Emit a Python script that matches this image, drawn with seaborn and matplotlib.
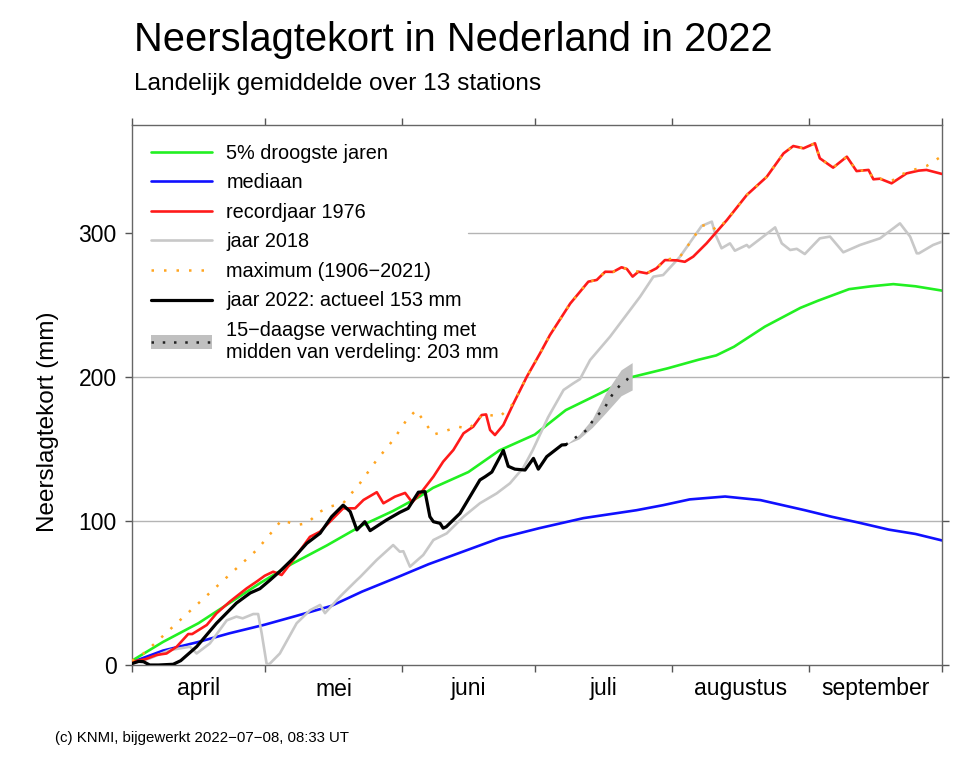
import matplotlib
matplotlib.use("Agg")
import matplotlib.pyplot as plt
from matplotlib.lines import Line2D
from matplotlib.patches import Patch
import seaborn as sns
import pandas as pd

# ---------------- data (day 0 = 1 April) ----------------
green_days = [0, 7, 15, 22, 29, 36, 44, 52, 59, 65, 68, 76, 83, 91, 98, 106, 113, 121, 128, 132, 136, 143, 151, 155, 162, 167, 172, 177, 183]
green_vals = [3, 16, 29, 43, 57, 70, 83, 97, 107, 117, 123, 134, 149, 160, 177, 189, 200, 206, 212, 215, 221, 235, 248, 253, 261, 263, 264.5, 263, 260]

blue_days = [0, 7, 15, 22, 30, 37, 45, 52, 60, 67, 75, 83, 92, 102, 114, 120, 126, 134, 142, 152, 158, 164, 171, 177, 183]
blue_vals = [2, 10, 16, 22, 28, 34, 41, 51, 61, 70, 79, 88, 95, 102, 107.5, 111, 115, 117, 114.5, 107.5, 103, 99, 94, 91, 86.5]

red_days = [0, 3, 5.6, 7.8, 10.1, 12.7, 13.6, 16.9, 19.1, 22.1, 25.9, 28.2, 30, 31.9, 33.8, 36.4, 40.2, 42.5, 44.7,
            47.7, 50.4, 52.3, 55.3, 56.8, 59.4, 61.7, 63.3, 65.5, 68.1, 70.3, 72.6, 74.9, 77.1, 79, 80, 80.9, 82, 83.9,
            86.2, 89.2, 92.2, 94.4, 99, 103.1, 105, 106.9, 108.7, 110.6, 111.8, 113.1, 114.4, 116.3, 118.5, 120.4,
            123.1, 124.9, 126.8, 129.8, 134.4, 138.9, 143.4, 147.2, 149.4, 151.7, 154.3, 155.4, 157, 158.4, 161.5,
            163.7, 166.4, 167.5, 169, 171.6, 175, 177.7, 179.5, 183]
red_vals = [2.3, 4, 7, 8, 12.7, 21.5, 21.5, 27.8, 35.9, 44, 53.2, 58, 62, 64.8, 62.5, 72.9, 89, 92.6, 99.5,
            108.8, 108.8, 114.6, 120, 112.3, 116.9, 119.5, 113, 120.5, 130.8, 141.2, 149.3, 160.9, 165.5, 173.6, 174, 163.2, 159.7, 166.7,
            181.7, 200.2, 216.5, 229, 251, 266.2, 267.4, 273.1, 273, 276.2, 275, 269.7, 273.1, 272, 275.5, 281.2,
            281, 280, 283.6, 292.8, 309, 326.4, 339, 355.3, 360.4, 358.8, 362.3, 351.9, 348.4, 345.4, 353,
            343, 343.8, 337.3, 337.7, 334.5, 341.4, 343.3, 343.8, 341]

grey_days = [0, 4, 8.6, 13.1, 14.6, 17.6, 21.4, 23.6, 25, 27.4, 28.5, 29.3, 30.4, 31, 33.4, 37.2, 40.2, 42.5, 43.6,
             47, 50.8, 51.5, 55.3, 59, 60.5, 61.3, 62.8, 65.8, 68.1, 71.1, 74.9, 78.6, 82.4, 85.4, 88.4, 90.5, 94,
             97.5, 99.7, 101.2, 103.5, 108, 114.8, 117.8, 120, 123.8, 128.7, 131, 131.7, 133.2, 135.1, 136.2, 138.9,
             139.4, 142.6, 145.3, 146.8, 148.7, 150.2, 152, 155.4, 157.7, 160.7, 164.5, 169, 173.5, 175.8, 177.3,
             177.8, 181, 183]
grey_vals = [1, 4.6, 10.4, 12.7, 8, 15, 31, 33.6, 32.4, 35.4, 35.4, 22, 1, 0.5, 8, 29, 38, 41.7, 36,
             47.5, 59, 61, 73, 83.3, 78.7, 79, 68.3, 76.4, 86.8, 91.4, 103, 112.3, 119.2, 126.2, 137, 149, 172,
             191, 195.6, 198.5, 211.8, 228, 255.8, 269.7, 270.8, 283.5, 304.9, 307.9, 299.8, 289.4, 292.8, 287.7, 291.7,
             290, 297.5, 303.9, 292.8, 288.2, 289, 285.4, 296.3, 297.5, 286.6, 291.7, 296.3, 306.7, 297.5, 285.9,
             285.9, 291.7, 294]

max_days = [0, 2.6, 5.6, 10.1, 14.6, 19.1, 23.6, 28.2, 32.3, 33.8, 37.2, 39.5, 42.5, 44.7, 47.7, 51.5, 55.3, 59, 62,
            64.2, 65.8, 68.1, 70.3, 73.7, 76, 77.9, 79, 80, 83.1, 86.2, 89.2, 92.2, 94.4, 99, 103.1, 105, 106.9, 108.7,
            110.6, 111.8, 114.4, 116.3, 118.5, 120.4, 123.8, 126, 128.7, 130.5, 132, 134.4, 138.9, 143.4, 147.2,
            149.4, 151.7, 154.3, 155.4, 157, 158.4, 161.5, 163.7, 166.4, 167.5, 169, 171.6, 173.5, 176.5, 179.5, 181, 183]
max_vals = [3, 8, 16.2, 29, 41.7, 54.4, 67.1, 79.9, 94.9, 100.7, 97.2, 98.4, 106.5, 110, 112.3, 126.2, 142.4, 156.2, 170,
            177, 170, 160, 162, 165.5, 164, 169, 173.6, 174, 172.4, 181.7, 200.2, 216.5, 229, 251, 266.2, 267.4, 273.1, 273,
            276.2, 275, 273.1, 272, 275.5, 281.2, 283.5, 293, 305, 306, 302, 309, 326.4, 339, 355.3,
            360.4, 358.8, 362.3, 351.9, 348.4, 345.4, 353, 343, 343.8, 337.3, 337.7, 336, 340.3, 343.8, 346.5, 349.5, 353.5]

y2022_days = [0, 1.5, 2.6, 4, 6, 9.3, 11, 14.6, 19.1, 23.6, 26.7, 28.9, 31.2, 33.4, 36.4, 39.5, 42.5, 45.1, 47.7, 49.3,
              50.8, 52.6, 53.8, 57.5, 60.5, 62.4, 64.7, 66.2, 67.3, 68.1, 69.6, 70.3, 71, 74.1, 78.6, 79.8, 81.3, 83.9,
              85, 86.5, 88.8, 90.7, 91.8, 93.7, 97.1, 98]
y2022_vals = [1, 2.5, 2.3, 0, 0, 0.5, 3, 12.7, 29, 43, 50, 53, 59, 65, 74, 84.5, 91.5, 103, 111, 106.5,
              93.8, 99.5, 93.3, 100.7, 106, 108.8, 120, 120.4, 103, 99.5, 98.4, 95, 96, 105.3, 128.5, 130.8, 134, 149,
              138, 136, 135.4, 143.5, 136, 144.7, 152.8, 153]

fc_days = [98, 100.5, 102.7, 104.6, 106.5, 107.6, 108.7, 110.3, 111.8, 113]
fc_vals = [153, 158.6, 163, 172, 177, 183, 188.7, 194.4, 198, 203]
band_days = [98, 101, 104, 107, 110.5, 113]
band_low = [153, 157, 165, 175, 187, 191]
band_high = [153, 160, 171, 189, 205, 210]

month_bounds = [0, 30, 61, 91, 122, 153, 183]
month_mid = [15, 45.5, 76, 106.5, 137.5, 168]
month_names = ["april", "mei", "juni", "juli", "augustus", "september"]
y_ticks = [0, 100, 200, 300]

labels = ["5% droogste jaren", "mediaan", "recordjaar 1976", "jaar 2018", "maximum (1906\u22122021)",
          "jaar 2022: actueel 153 mm", "15\u2212daagse verwachting met\nmidden van verdeling: 203 mm"]

# ---------------- style ----------------
sns.set_theme(style="white")
plt.rcParams["font.family"] = ["Liberation Sans", "DejaVu Sans"]
plt.rcParams["text.color"] = "black"
plt.rcParams["axes.labelcolor"] = "black"
plt.rcParams["xtick.color"] = "black"
plt.rcParams["ytick.color"] = "black"

fig = plt.figure(figsize=(9.77, 7.66), dpi=100)
ax = fig.add_axes([132 / 977, 1 - 665 / 766, 810 / 977, 540 / 766])

GREEN = "#22f022"
BLUE = "#1010ff"
RED = "#ff1a1a"
GREY = "#c8c8c8"
ORANGE = "#ffa520"
lw = 1.9

# horizontal grid lines (the 300 line is hidden behind the legend on its left part)
ax.axhline(100, color="#b4b4b4", lw=1.0, zorder=0)
ax.axhline(200, color="#b4b4b4", lw=1.0, zorder=0)
ax.axhline(300, xmin=(468 - 132) / 810, color="#b4b4b4", lw=1.0, zorder=0)

sns.lineplot(x=blue_days, y=blue_vals, ax=ax, color=BLUE, lw=lw, estimator=None, sort=False, zorder=2)
sns.lineplot(x=green_days, y=green_vals, ax=ax, color=GREEN, lw=lw, estimator=None, sort=False, zorder=2)
sns.lineplot(x=grey_days, y=grey_vals, ax=ax, color=GREY, lw=lw, estimator=None, sort=False, zorder=3)
sns.lineplot(x=red_days, y=red_vals, ax=ax, color=RED, lw=lw, estimator=None, sort=False, zorder=4)
sns.lineplot(x=max_days, y=max_vals, ax=ax, color=ORANGE, lw=1.8, estimator=None, sort=False, zorder=5,
             linestyle=(0, (1, 4)))
ax.fill_between(band_days, band_low, band_high, color="#c0c0c0", lw=0, zorder=5)
sns.lineplot(x=fc_days, y=fc_vals, ax=ax, color="#222222", lw=1.8, estimator=None, sort=False, zorder=6,
             linestyle=(0, (1, 3.5)))
sns.lineplot(x=y2022_days, y=y2022_vals, ax=ax, color="black", lw=2.3, estimator=None, sort=False, zorder=7)

ax.set_xlim(0, 183)
ax.set_ylim(0, 375)
ax.set_xlabel("")
ax.set_ylabel("Neerslagtekort (mm)", fontsize=17.5)
ax.yaxis.set_label_coords(-0.09, 0.45)

ax.set_xticks(month_bounds)
ax.set_xticklabels([""] * len(month_bounds))
ax.set_xticks(month_mid, minor=True)
ax.set_xticklabels(month_names, minor=True, fontsize=16.5)
ax.set_yticks(y_ticks)
ax.set_yticklabels([str(v) for v in y_ticks], fontsize=16.5)
ax.tick_params(axis="both", which="major", direction="out", length=5, width=1, color="#555555",
               top=True, right=True, bottom=True, left=True)
ax.tick_params(axis="x", which="minor", length=0, pad=9, bottom=True, top=False)
ax.tick_params(axis="y", which="major", pad=6)

for s in ax.spines.values():
    s.set_color("#666666")
    s.set_linewidth(1.0)

handles = [
    Line2D([], [], color=GREEN, lw=lw),
    Line2D([], [], color=BLUE, lw=lw),
    Line2D([], [], color=RED, lw=lw),
    Line2D([], [], color=GREY, lw=lw),
    Line2D([], [], color=ORANGE, lw=1.8, linestyle=(0, (1, 4))),
    Line2D([], [], color="black", lw=2.3),
    (Patch(facecolor="#c0c0c0", edgecolor="none"), Line2D([], [], color="#222222", lw=1.8, linestyle=(0, (1, 3.5)))),
]
leg = ax.legend(handles, labels, loc="upper left", bbox_to_anchor=(0.0, 1.0), borderaxespad=0.0,
                fontsize=14.3, frameon=False,
                handlelength=3.1, handletextpad=0.7, labelspacing=0.53, borderpad=0.95)
leg.set_zorder(10)

fig.text(134 / 977, 1 - 40 / 766, "Neerslagtekort in Nederland in 2022", fontsize=28.7, va="center", ha="left")
fig.text(134 / 977, 1 - 84 / 766, "Landelijk gemiddelde over 13 stations", fontsize=17.6, va="center", ha="left")
fig.text(55 / 977, 1 - 738 / 766, "(c) KNMI, bijgewerkt 2022\u221207\u221208, 08:33 UT", fontsize=10.8,
         va="center", ha="left")

fig.savefig("out.png", dpi=100, facecolor="white")
